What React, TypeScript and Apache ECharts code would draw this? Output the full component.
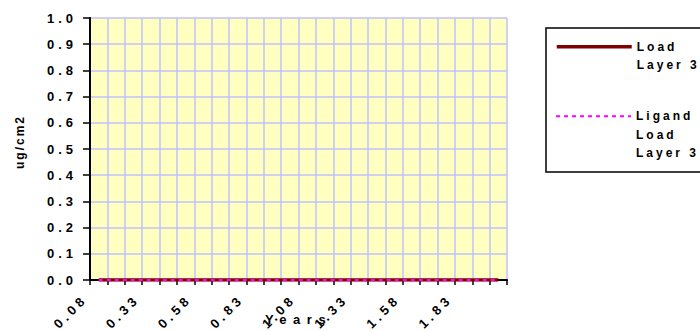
import React, { useEffect, useRef } from "react";
import * as echarts from "echarts";

const categories = [
  "0.08", "0.17", "0.25", "0.33", "0.42", "0.50", "0.58", "0.67", "0.75", "0.83", "0.92", "1.00",
  "1.08", "1.17", "1.25", "1.33", "1.42", "1.50", "1.58", "1.67", "1.75", "1.83", "1.92", "2.00",
];
const loadLayer3 = [0, 0, 0, 0, 0, 0, 0, 0, 0, 0, 0, 0, 0, 0, 0, 0, 0, 0, 0, 0, 0, 0, 0, 0];
const ligandLoadLayer3 = [0, 0, 0, 0, 0, 0, 0, 0, 0, 0, 0, 0, 0, 0, 0, 0, 0, 0, 0, 0, 0, 0, 0, 0];
const seriesNames = ["Load Layer 3", "Ligand Load Layer 3"];
const legendLabels = ["\nLoad\nLayer 3", "\n\nLigand\nLoad\nLayer 3"];
const xTitle = "Years";
const yTitle = "ug/cm2";

const FONT = "Arial, 'Liberation Sans', sans-serif";
const GRID_COLOR = "#C0C0FF";

export default function App() {
  const ref = useRef<HTMLDivElement>(null);
  useEffect(() => {
    const chart = echarts.init(ref.current!, null, { renderer: "svg" });
    const labelAxisData = [...categories, ""];
    const legendText = { fontFamily: FONT, fontWeight: "bold", fontSize: 12, lineHeight: 18.5, color: "#000" };
    chart.setOption({
      animation: false,
      backgroundColor: "#FFFFFF",
      grid: {
        left: 90,
        right: 193,
        top: 18,
        bottom: 47,
        show: true,
        backgroundColor: "#FFFFC0",
        borderWidth: 0,
      },
      xAxis: [
        {
          type: "category",
          position: "bottom",
          data: categories,
          boundaryGap: true,
          name: xTitle,
          nameLocation: "middle",
          nameGap: 33,
          nameTextStyle: { fontFamily: FONT, fontWeight: "bold", fontSize: 13, color: "#000" },
          axisLine: { show: true, lineStyle: { color: "#000", width: 2 } },
          axisTick: { show: true, interval: 0, length: 5, lineStyle: { color: "#000", width: 1.5 } },
          axisLabel: { show: false },
          splitLine: { show: true, interval: 0, lineStyle: { color: GRID_COLOR, width: 1.5 } },
        },
        {
          type: "category",
          position: "bottom",
          data: labelAxisData,
          boundaryGap: false,
          axisLine: { show: false },
          axisTick: { show: false },
          splitLine: { show: false },
          axisLabel: {
            show: true,
            interval: 2,
            rotate: 45,
            margin: 12,
            padding: [0, 7, 0, 0],
            fontFamily: FONT,
            fontWeight: "bold",
            fontSize: 13,
            color: "#000",
          },
        },
      ],
      yAxis: {
        type: "value",
        min: 0,
        max: 1,
        interval: 0.1,
        name: yTitle,
        nameLocation: "middle",
        nameRotate: 90,
        nameGap: 64,
        nameTextStyle: {
          fontFamily: FONT,
          fontWeight: "bold",
          fontSize: 12,
          color: "#000",
          padding: [0, 0, 0, 14],
        },
        axisLine: { show: true, lineStyle: { color: "#000", width: 2 } },
        axisTick: { show: true, length: 7, lineStyle: { color: "#000", width: 1.5 } },
        axisLabel: {
          margin: 13,
          fontFamily: FONT,
          fontWeight: "bold",
          fontSize: 13,
          color: "#000",
          formatter: (v: number) => v.toFixed(1),
        },
        splitLine: { show: true, lineStyle: { color: GRID_COLOR, width: 1.5 } },
      },
      legend: [
        {
          data: [seriesNames[0]],
          orient: "vertical",
          left: 555,
          top: 19,
          padding: 0,
          itemWidth: 75,
          itemHeight: 14,
          itemStyle: { opacity: 0 },
          lineStyle: { width: 3.5 },
          formatter: () => legendLabels[0],
          textStyle: legendText,
        },
        {
          data: [seriesNames[1]],
          orient: "vertical",
          left: 555,
          top: 70,
          padding: 0,
          itemWidth: 75,
          itemHeight: 14,
          itemStyle: { opacity: 0 },
          lineStyle: { width: 2 },
          formatter: () => legendLabels[1],
          textStyle: legendText,
        },
      ],
      graphic: [
        {
          type: "rect",
          shape: { x: 546, y: 28, width: 200, height: 144 },
          style: { fill: "none", stroke: "#000", lineWidth: 1.5 },
          z: 0,
        },
      ],
      series: [
        {
          name: seriesNames[0],
          type: "line",
          xAxisIndex: 0,
          data: loadLayer3,
          symbol: "none",
          lineStyle: { color: "#800000", width: 3.5 },
          itemStyle: { color: "#800000" },
          z: 3,
        },
        {
          name: seriesNames[1],
          type: "line",
          xAxisIndex: 0,
          data: ligandLoadLayer3,
          symbol: "none",
          lineStyle: { color: "#FF00FF", width: 2, type: [4, 4] },
          itemStyle: { color: "#FF00FF" },
          z: 4,
        },
      ],
    });

    // the reference's texts are letter-spaced; apply spacing per text group
    const yLabels = new Set(["0.0", "0.1", "0.2", "0.3", "0.4", "0.5", "0.6", "0.7", "0.8", "0.9", "1.0"]);
    const xLabels = new Set(categories);
    const legendWords = new Set(["Load", "Layer 3", "Ligand"]);
    ref.current!.querySelectorAll("text").forEach((el) => {
      const t = (el.textContent || "").trim();
      let sp = 0;
      if (yLabels.has(t)) sp = 4;
      else if (xLabels.has(t)) sp = 4;
      else if (t === xTitle) sp = 6.5;
      else if (t === yTitle) sp = 2;
      else if (legendWords.has(t)) sp = 3;
      if (sp) (el as SVGTextElement).style.letterSpacing = sp + "px";
    });
    return () => chart.dispose();
  }, []);
  return (
    <div
      ref={ref}
      style={{ position: "fixed", left: 0, top: 0, width: 700, height: 331, background: "#fff" }}
    />
  );
}
